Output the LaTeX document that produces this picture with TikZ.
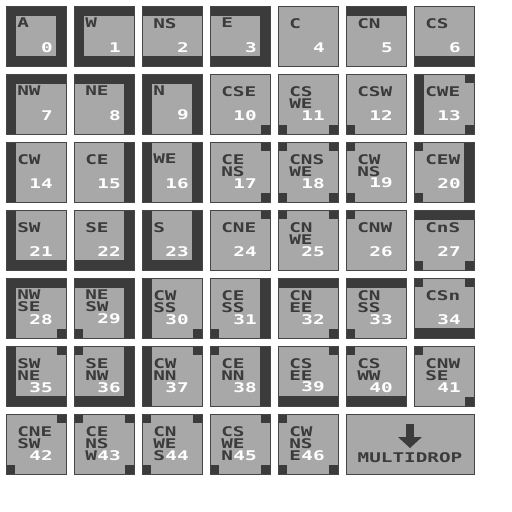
\documentclass[tikz,border=0pt]{standalone}
\usepackage{fontspec}
\newfontfamily\pixfont{DejaVu Sans Mono}[FakeStretch=1.45,UprightFont={* Bold}]
\definecolor{tiledark}{HTML}{3B3B3B}
\definecolor{tilelight}{HTML}{A8A8A8}
\definecolor{tileedge}{HTML}{464646}

%% band and corner pieces, in tile pixels
\newcommand\tbn{\fill[band] (0,0) rectangle (60,10);}
\newcommand\tbs{\fill[band] (0,50) rectangle (60,60);}
\newcommand\tbw{\fill[band] (0,0) rectangle (10,60);}
\newcommand\tbe{\fill[band] (50,0) rectangle (60,60);}
\newcommand\tcnw{\fill[band] (0,0) rectangle (9,9);}
\newcommand\tcne{\fill[band] (51,0) rectangle (60,9);}
\newcommand\tcsw{\fill[band] (0,51) rectangle (9,60);}
\newcommand\tcse{\fill[band] (51,51) rectangle (60,60);}
\newcommand\tx{}

\begin{document}
\begin{tikzpicture}[
    x=0.75pt, y=-0.75pt,
    tile/.style={fill=tilelight},
    edge/.style={draw=tileedge, line width=0.75pt},
    band/.style={fill=tiledark},
    lbl/.style={font=\pixfont\fontsize{10}{9}\selectfont, text=tiledark,
        inner sep=0pt, anchor=north west, align=left},
    num/.style={font=\pixfont\fontsize{10}{9}\selectfont, text=white,
        inner sep=0pt, anchor=south east}
]
\fill[white] (0,0) rectangle (512,512);
\useasboundingbox (0,0) rectangle (512,512);

%% ── tile sheet ────────────────────────────────────────
\foreach \n/\lab/\parts in {
    0/A/{tbn,tbs,tbw,tbe}, 1/W/{tbn,tbw,tbs}, 2/NS/{tbn,tbs}, 3/E/{tbn,tbe,tbs},
    4/C/{tx}, 5/CN/{tbn}, 6/CS/{tbs},
    7/NW/{tbn,tbw}, 8/NE/{tbn,tbe}, 9/N/{tbn,tbw,tbe}, 10/CSE/{tcse},
    11/{CS\\WE}/{tcsw,tcse}, 12/CSW/{tcsw}, 13/CWE/{tbw,tcne,tcse},
    14/CW/{tbw}, 15/CE/{tbe}, 16/WE/{tbw,tbe}, 17/{CE\\NS}/{tcne,tcse},
    18/{CNS\\WE}/{tcnw,tcne,tcsw,tcse}, 19/{CW\\NS}/{tcnw,tcsw}, 20/CEW/{tbe,tcnw,tcsw},
    21/SW/{tbw,tbs}, 22/SE/{tbe,tbs}, 23/S/{tbw,tbe,tbs}, 24/CNE/{tcne},
    25/{CN\\WE}/{tcnw,tcne}, 26/CNW/{tcnw}, 27/CnS/{tbn,tcsw,tcse},
    28/{NW\\SE}/{tbn,tbw,tcse}, 29/{NE\\SW}/{tbn,tbe,tcsw}, 30/{CW\\SS}/{tbw,tcse},
    31/{CE\\SS}/{tbe,tcsw}, 32/{CN\\EE}/{tbn,tcse}, 33/{CN\\SS}/{tbn,tcsw},
    34/CSn/{tbs,tcnw,tcne},
    35/{SW\\NE}/{tbw,tbs,tcne}, 36/{SE\\NW}/{tbe,tbs,tcnw}, 37/{CW\\NN}/{tbw,tcne},
    38/{CE\\NN}/{tbe,tcnw}, 39/{CS\\EE}/{tbs,tcne}, 40/{CS\\WW}/{tbs,tcnw},
    41/{CNW\\SE}/{tcnw,tcse},
    42/{CNE\\SW}/{tcne,tcsw}, 43/{CE\\NS\\W}/{tcnw,tcne,tcse},
    44/{CN\\WE\\S}/{tcnw,tcne,tcsw}, 45/{CS\\WE\\N}/{tcne,tcsw,tcse},
    46/{CW\\NS\\E}/{tcnw,tcsw,tcse}}
{
    \pgfmathtruncatemacro\col{mod(\n,7)}
    \pgfmathtruncatemacro\row{div(\n,7)}
    \begin{scope}[shift={(6+68*\col,6+68*\row)}]
        \fill[tile] (0,0) rectangle (60,60);
        \foreach \p in \parts {\csname\p\endcsname}
        \draw[edge] (0,0) rectangle (60,60);
        \node[lbl] (lab\n) at (11,12) {\lab};
        \node[num] (num\n) at (47,46.5) {\n};
    \end{scope}
}

%% ── multidrop tile ────────────────────────────────────
\begin{scope}[shift={(346,414)}]
    \fill[tile] (0,0) rectangle (128,60);
    \draw[edge] (0,0) rectangle (128,60);
    \fill[band] (60,10) rectangle (68,23);
    \fill[band] (52,23) -- (76,23) -- (64,34) -- cycle;
    \node[lbl, anchor=base] (multi) at (64,48.5) {MULTIDROP};
\end{scope}

\end{tikzpicture}
\end{document}
